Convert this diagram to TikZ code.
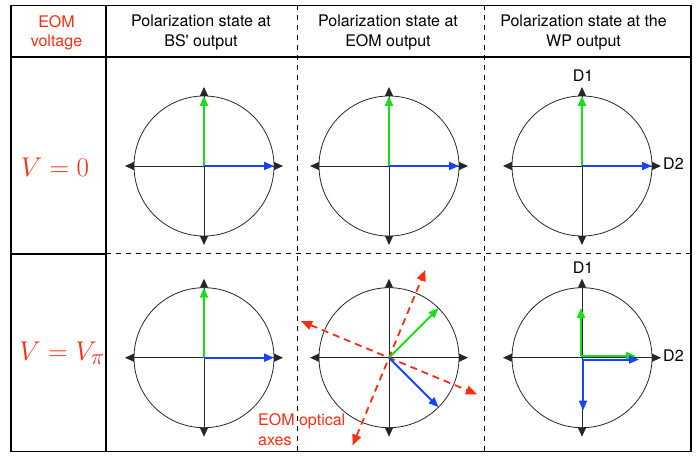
\documentclass[tikz,border=0pt]{standalone}
\usepackage{fontspec}
\setmainfont{TeX Gyre Heros}
\usepackage{graphicx}
\usepackage{tikz}
\usetikzlibrary{arrows.meta}
\usepackage{xcolor}
\definecolor{cRed}{RGB}{250,45,20}
\definecolor{cGreen}{RGB}{25,222,25}
\definecolor{cBlue}{RGB}{25,65,255}
\newcommand{\polring}[1]{%
  \draw[ring] (#1) circle[radius=70];
  \draw[axis] ([xshift=-79pt]#1) -- ([xshift=79pt]#1);
  \draw[axis] ([yshift=-79pt]#1) -- ([yshift=79pt]#1);
}

\begin{document}
\begin{tikzpicture}[
    x=1pt, y=-1pt,
    head/.style={font=\fontsize{16}{19.4}\selectfont,align=center,inner sep=0pt},
    volt/.style={font=\Huge,text=cRed,inner sep=0pt,anchor=base},
    lab/.style={font=\fontsize{16}{19.4}\selectfont,inner sep=0pt},
    ring/.style={draw=black!85,line width=0.8pt},
    axis/.style={draw=black!85,line width=0.8pt,{Triangle[length=9pt,width=8pt]}-{Triangle[length=9pt,width=8pt]}},
    vec/.style={line width=2pt,-{Triangle[length=10pt,width=8pt]}},
    grid/.style={line width=1.6pt},
    sep/.style={line width=1pt,dash pattern=on 5pt off 5pt},
    optaxis/.style={cRed,line width=1.8pt,dash pattern=on 7pt off 5pt,{Triangle[length=11pt,width=9pt]}-{Triangle[length=11pt,width=9pt]}}
  ]
  \useasboundingbox (0,0) rectangle (700,457);

  \draw[grid] (11,5.5) rectangle (690.7,451.5);
  \draw[grid] (11,57) -- (690.7,57);
  \draw[grid] (105.7,5.5) -- (105.7,451.5);
  \draw[grid] (11,253.7) -- (105.7,253.7);
  \draw[sep] (105.7,253.7) -- (690.7,253.7);
  \draw[sep] (297,5.5) -- (297,451.5);
  \draw[sep] (484,5.5) -- (484,451.5);

  \node[head,text=cRed] (hvolt) at (56.5,32.5) {EOM\\voltage};
  \node[head] (hbs)  at (201,32.5) {Polarization state at\\BS\textquotesingle{} output};
  \node[head] (heom) at (388,32.5) {Polarization state at\\EOM output};
  \node[head] (hwp)  at (583.5,32.5) {Polarization state at the\\WP output};

  \node[volt] (vzero) at (55,176) {\scalebox{1.09}{$V=0$}};
  \node[volt] (vpi)   at (62,360) {\scalebox{1.09}{$V=V_\pi$}};

  \coordinate (bs0)  at (204,166);
  \coordinate (eom0) at (389,166);
  \coordinate (wp0)  at (582,166);
  \coordinate (bs1)  at (204,357.7);
  \coordinate (eom1) at (389,357.7);
  \coordinate (wp1)  at (582,357.7);

  \polring{bs0}
  \polring{eom0}
  \polring{wp0}
  \polring{bs1}
  \polring{eom1}
  \polring{wp1}

  \draw[vec,cGreen] (bs0) -- ++(0,-70);
  \draw[vec,cBlue]  (bs0) -- ++(70,0);
  \draw[vec,cGreen] (eom0) -- ++(0,-70);
  \draw[vec,cBlue]  (eom0) -- ++(70,0);
  \draw[vec,cGreen] (wp0) -- ++(0,-70);
  \draw[vec,cBlue]  (wp0) -- ++(70,0);
  \draw[vec,cGreen] (bs1) -- ++(0,-70);
  \draw[vec,cBlue]  (bs1) -- ++(70,0);

  \draw[optaxis] (eom1) ++(-36.4,87.8) coordinate (oa1) -- ++(72.8,-175.6) coordinate (oa2);
  \draw[optaxis] (eom1) ++(-88,-36.6) coordinate (ob1) -- ++(176,73.2) coordinate (ob2);
  \draw[vec,cGreen] (eom1) -- ++(49.5,-49.5);
  \draw[vec,cBlue]  (eom1) -- ++(49.5,49.5);

  \coordinate (wpg) at (581,356);
  \coordinate (wpb) at (583,359.5);
  \draw[vec,cGreen] (wpg) -- ++(0,-48);
  \draw[vec,cGreen] (wpg) -- ++(55,0);
  \draw[vec,cBlue]  (wpb) -- ++(56,0);
  \draw[vec,cBlue]  (wpb) -- ++(0,51);

  \node[lab,anchor=base] (d1a) at (583,81.3) {D1};
  \node[lab,anchor=base west] (d2a) at (663,169.3) {D2};
  \node[lab,anchor=base] (d1b) at (583,273) {D1};
  \node[lab,anchor=base west] (d2b) at (663,361) {D2};

  \node[lab,text=cRed,align=left,anchor=north west] (oalab) at (258,413.5) {EOM optical\\axes};
\end{tikzpicture}
\end{document}
